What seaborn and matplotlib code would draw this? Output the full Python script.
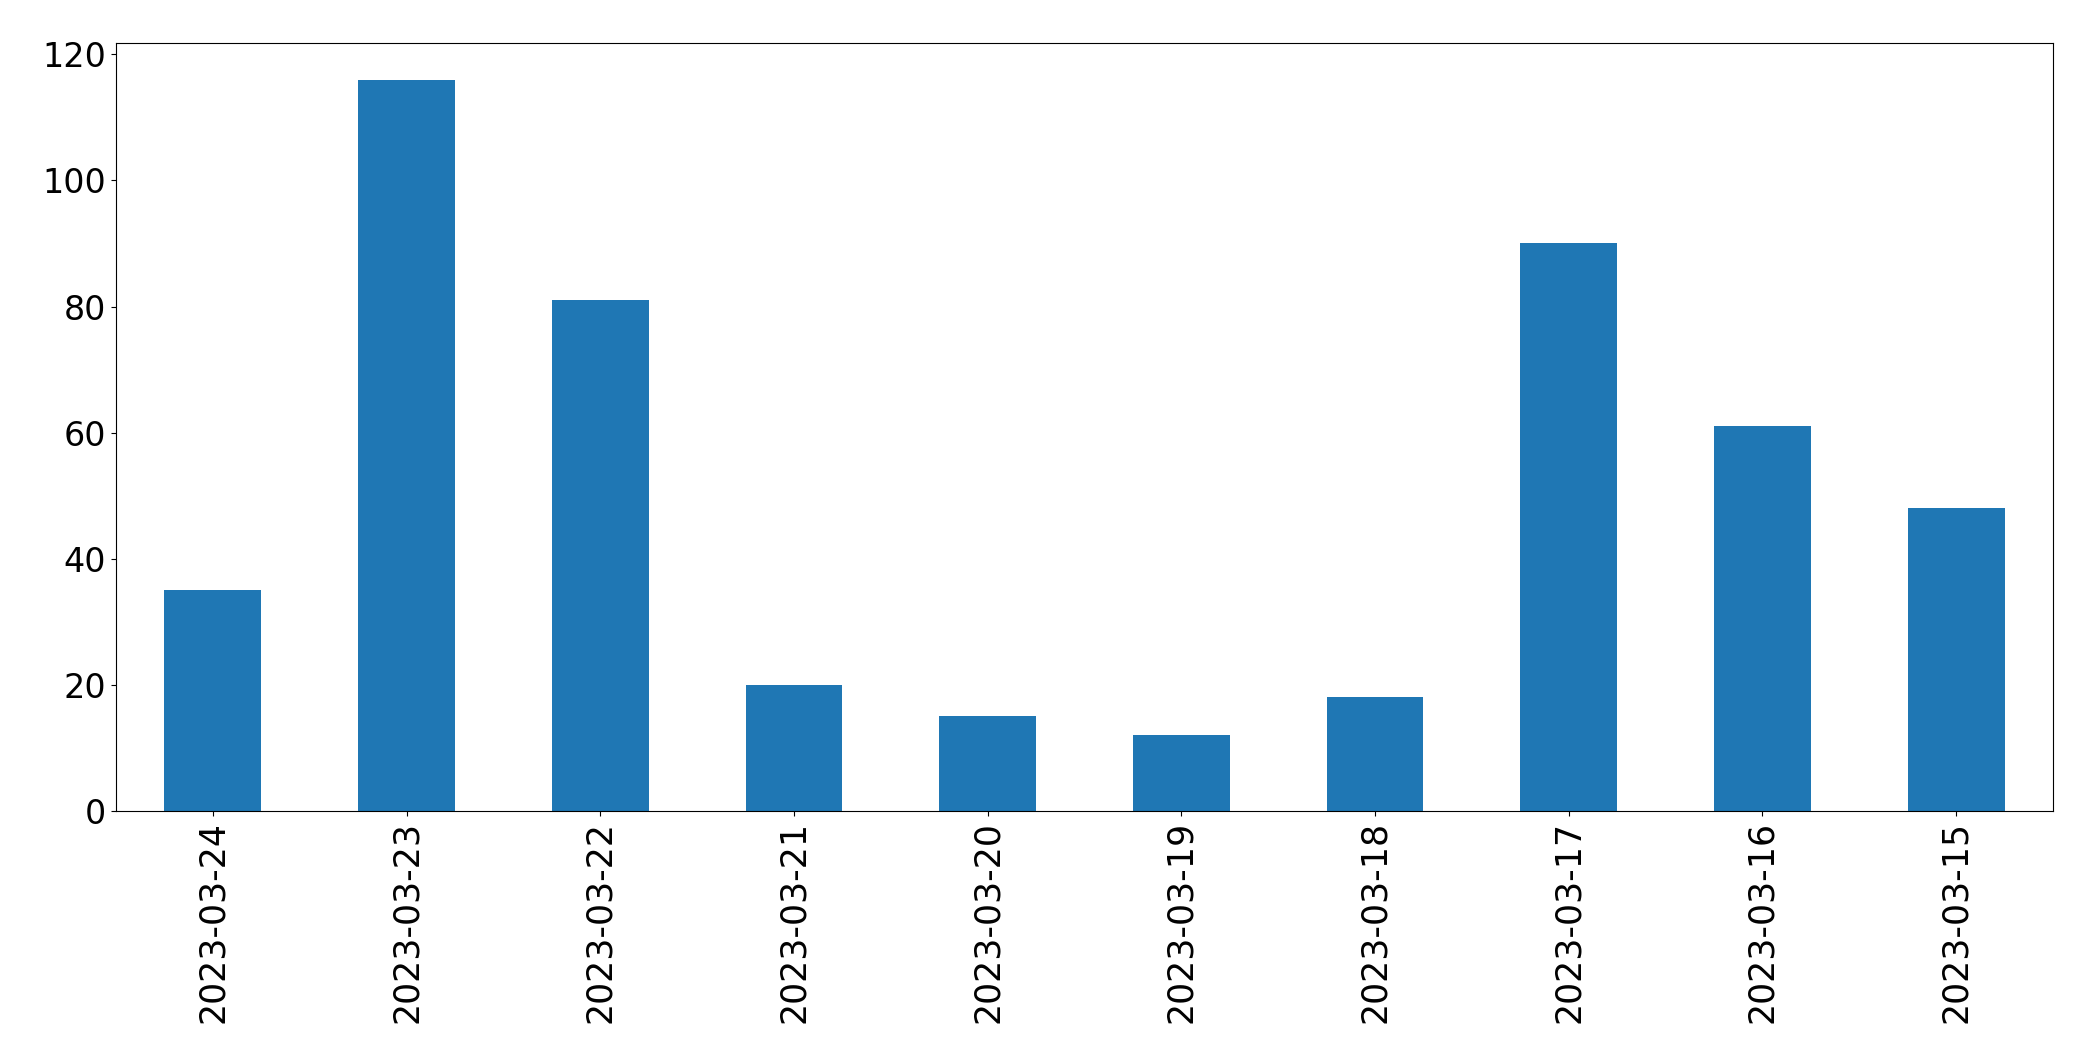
import pandas as pd
import seaborn as sns
import matplotlib
matplotlib.use('Agg')
import matplotlib.pyplot as plt

dates = ['2023-03-24', '2023-03-23', '2023-03-22', '2023-03-21', '2023-03-20',
         '2023-03-19', '2023-03-18', '2023-03-17', '2023-03-16', '2023-03-15']
counts = [35, 116, 81, 20, 15, 12, 18, 90, 61, 48]

df = pd.DataFrame({'date': dates, 'count': counts})

fig, ax = plt.subplots(figsize=(20.93, 10.64), dpi=100)
sns.barplot(data=df, x='date', y='count', order=dates, color='#1f77b4',
            saturation=1, width=0.5, linewidth=0, ax=ax)
ax.set_xlabel('')
ax.set_ylabel('')
ax.tick_params(axis='y', labelsize=24)
ax.tick_params(axis='x', labelsize=25, labelrotation=90)
ax.set_ylim(0, 121.8)
ax.set_xlim(-0.5, len(dates) - 0.5)

fig.subplots_adjust(left=0.0554, right=0.9809, top=0.9596, bottom=0.2378)
fig.savefig('out.png', dpi=100)
